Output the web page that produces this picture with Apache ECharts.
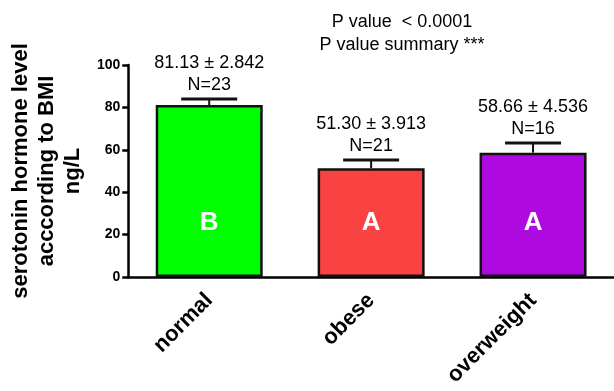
<!DOCTYPE html>
<html>
<head>
<meta charset="utf-8">
<script src="https://cdn.jsdelivr.net/npm/echarts@6/dist/echarts.min.js"></script>
<style>
  html, body { margin: 0; padding: 0; background: #fff; }
  #chart { width: 614px; height: 391px; }
</style>
</head>
<body>
<div id="chart"></div>
<script>
// BMI groups and their serotonin levels (mean ± SEM, ng/L)
const categories = ['normal', 'obese', 'overweight'];
const means = [81.13, 51.30, 58.66];
const sems = [2.842, 3.913, 4.536];
const counts = [23, 21, 16];
const groupLetters = ['B', 'A', 'A'];
const barColors = ['#00ff00', '#f94343', '#ae0ae0'];
const yTicks = { min: 0, max: 100, interval: 20 };
const pLines = ['P value  < 0.0001', 'P value summary ***'];

const FONT = 'Liberation Sans, Arial, sans-serif';

const chart = echarts.init(document.getElementById('chart'), null, { renderer: 'canvas' });

const barData = means.map((m, i) => ({
  value: m,
  itemStyle: { color: barColors[i] }
}));

const errData = means.map((m, i) => [i, m, sems[i], counts[i]]);

chart.setOption({
  animation: false,
  backgroundColor: '#fff',
  grid: { left: 125, width: 491, top: 65, bottom: 114, containLabel: false },
  graphic: pLines.map((t, i) => ({
    type: 'text',
    style: {
      text: t,
      x: 402,
      y: 22 + i * 23,
      textAlign: 'center',
      textVerticalAlign: 'middle',
      fontFamily: FONT,
      fontSize: 18,
      fill: '#000'
    }
  })),
  xAxis: {
    type: 'category',
    data: categories,
    axisLine: { lineStyle: { color: '#000', width: 2.5 } },
    axisTick: { alignWithLabel: true, length: 6, lineStyle: { color: '#000', width: 2.5 } },
    axisLabel: {
      rotate: 45,
      margin: 20,
      color: '#000',
      fontFamily: FONT,
      fontWeight: 'bold',
      fontSize: 22
    }
  },
  yAxis: {
    type: 'value',
    min: yTicks.min,
    max: yTicks.max,
    interval: yTicks.interval,
    name: 'serotonin hormone level\nacccording to BMI\nng/L',
    nameLocation: 'middle',
    nameGap: 40,
    nameTextStyle: {
      color: '#000',
      fontFamily: FONT,
      fontWeight: 'bold',
      fontSize: 22,
      lineHeight: 26,
      align: 'center'
    },
    splitLine: { show: false },
    axisLine: { show: true, lineStyle: { color: '#000', width: 2.5 } },
    axisTick: { show: true, length: 6, lineStyle: { color: '#000', width: 2.5 } },
    axisLabel: {
      margin: 8,
      color: '#000',
      fontFamily: FONT,
      fontWeight: 'bold',
      fontSize: 14
    }
  },
  series: [
    {
      type: 'bar',
      data: barData,
      barWidth: 107,
      itemStyle: { borderColor: '#111', borderWidth: 2.5 },
      label: {
        show: true,
        position: 'insideBottom',
        distance: 41,
        formatter: p => groupLetters[p.dataIndex],
        color: '#fff',
        fontFamily: FONT,
        fontWeight: 'bold',
        fontSize: 26
      },
      z: 2
    },
    {
      type: 'custom',
      data: errData,
      z: 5,
      renderItem: function (params, api) {
        const idx = api.value(0);
        const m = api.value(1);
        const s = api.value(2);
        const n = api.value(3);
        const base = api.coord([idx, m]);
        const top = api.coord([idx, m + s]);
        const half = 28;
        return {
          type: 'group',
          children: [
            {
              type: 'line',
              shape: { x1: base[0], y1: base[1], x2: top[0], y2: top[1] },
              style: { stroke: '#111', lineWidth: 2 }
            },
            {
              type: 'line',
              shape: { x1: top[0] - half, y1: top[1], x2: top[0] + half, y2: top[1] },
              style: { stroke: '#111', lineWidth: 3 }
            },
            {
              type: 'text',
              style: {
                text: 'N=' + n,
                x: top[0],
                y: top[1] - 14,
                textAlign: 'center',
                textVerticalAlign: 'middle',
                fontFamily: FONT,
                fontSize: 18,
                fill: '#000'
              }
            },
            {
              type: 'text',
              style: {
                text: means[idx].toFixed(2) + ' \u00b1 ' + sems[idx].toFixed(3),
                x: top[0],
                y: top[1] - 36,
                textAlign: 'center',
                textVerticalAlign: 'middle',
                fontFamily: FONT,
                fontSize: 18,
                fill: '#000'
              }
            }
          ]
        };
      }
    }
  ]
});
</script>
</body>
</html>
